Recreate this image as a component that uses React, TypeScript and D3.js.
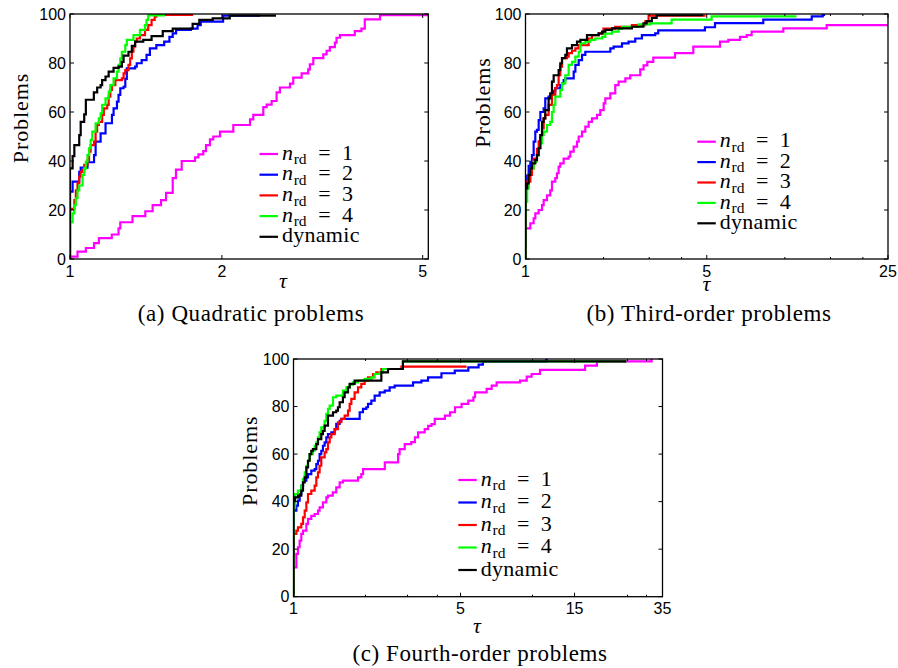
import React from "react";
import * as d3 from "d3";

type Pt = [number, number];

// ---------- shared ----------
const SERIES_LABELS = ["1", "2", "3", "4", "dynamic"];
const SERIES_COLORS = ["#ff00ff", "#0000ff", "#ff0000", "#00ff00", "#000000"];
const Y_TICKS = [0, 20, 40, 60, 80, 100];

// ---------- (a) Quadratic problems ----------
const quadXTicks = [1, 2, 5];
const quadXMinor: number[] = [];
const quadN1: Pt[] = [[1,1],[1.035,3],[1.075,4.5],[1.116,6.5],[1.141,8.5],[1.21,10],[1.248,12.5],[1.258,15],[1.33,17.5],[1.41,19.5],[1.458,22],[1.515,24],[1.55,27],[1.598,33],[1.622,36.5],[1.665,40],[1.769,41.5],[1.797,42.7],[1.837,44],[1.86,46.5],[1.894,48.8],[1.923,50],[1.983,52],[2.107,54.7],[2.274,57],[2.308,58.8],[2.416,62],[2.453,63],[2.51,64.5],[2.567,68],[2.606,70],[2.729,71.6],[2.77,74],[2.878,75.8],[2.966,77.4],[2.988,79.5],[3.035,82],[3.176,83.5],[3.225,85],[3.273,86.5],[3.349,88.3],[3.375,90.3],[3.427,91.4],[3.668,93],[3.781,94],[3.839,97.8],[4.115,99.5],[5.13,99.5]];
const quadN2: Pt[] = [[1,27.5],[1.012,31.6],[1.043,35.6],[1.05,37.3],[1.083,39.5],[1.116,42.4],[1.124,47.9],[1.15,51.3],[1.176,55.4],[1.211,58.8],[1.22,61.5],[1.239,64.2],[1.248,67],[1.258,69.7],[1.277,70.3],[1.287,73.5],[1.296,77.8],[1.346,78.5],[1.356,79.9],[1.387,81.2],[1.418,83.3],[1.44,86],[1.483,87.3],[1.537,88.7],[1.574,90.7],[1.598,92.1],[1.623,93.5],[1.736,94],[1.79,95.5],[1.816,96.9],[2.011,99.3],[2.38,99.3]];
const quadN3: Pt[] = [[1,20.5],[1.02,24],[1.027,28],[1.035,31],[1.043,33.6],[1.05,35.6],[1.059,36.3],[1.067,38.4],[1.083,40.4],[1.091,43.8],[1.099,46.5],[1.116,47.9],[1.124,52],[1.132,54.7],[1.141,56],[1.158,58.8],[1.167,61.5],[1.185,62.9],[1.193,66.3],[1.202,69],[1.211,71],[1.23,73],[1.267,73.7],[1.277,75.8],[1.287,77.1],[1.306,79.2],[1.316,81.9],[1.326,84.6],[1.336,86.7],[1.346,88.7],[1.356,90],[1.376,91.4],[1.408,93.5],[1.429,95.5],[1.451,97.6],[1.472,98.9],[1.483,99.6],[1.754,99.6]];
const quadN4: Pt[] = [[1,15],[1.012,18.6],[1.02,22],[1.027,24.8],[1.035,28],[1.043,30],[1.059,34.3],[1.067,37],[1.075,39.7],[1.083,42.4],[1.091,45.2],[1.099,48.6],[1.107,52],[1.124,55.4],[1.141,57.4],[1.15,59.5],[1.158,62.9],[1.176,65.6],[1.193,68.3],[1.202,71],[1.22,73.7],[1.239,76.5],[1.248,79.2],[1.258,81.9],[1.267,84.6],[1.287,87.3],[1.296,89.4],[1.336,91.4],[1.376,93.5],[1.408,95.5],[1.418,97.6],[1.429,99.4],[1.543,99.4]];
const quadDyn: Pt[] = [[1,37],[1.012,42],[1.02,46.5],[1.043,50.6],[1.05,56],[1.067,59],[1.075,65],[1.115,68],[1.132,70],[1.15,71],[1.158,73],[1.176,74.5],[1.193,76.5],[1.22,78],[1.248,78.5],[1.267,80.5],[1.277,83],[1.306,84.6],[1.326,87],[1.346,88.7],[1.397,89.4],[1.451,91],[1.527,93],[1.598,94],[1.75,96],[1.804,97.6],[1.918,98.2],[2.073,99.3],[2.56,99.3]];

// ---------- (b) Third-order problems ----------
const thirdXTicks = [1, 5, 25];
const thirdXMinor = [2, 3, 4, 10, 15, 20];
const thirdN1: Pt[] = [[1,12.5],[1.044,14.6],[1.075,16.6],[1.091,18.6],[1.124,20],[1.158,22],[1.175,24],[1.21,26],[1.246,28],[1.265,31.6],[1.303,33],[1.322,35],[1.342,37.7],[1.362,39],[1.403,41],[1.467,41.8],[1.489,43.8],[1.534,45.9],[1.58,47.9],[1.604,50],[1.652,52],[1.701,54],[1.752,56],[1.805,57.4],[1.886,58.8],[1.943,60.8],[2.002,63.5],[2.032,65.6],[2.124,67.6],[2.219,71],[2.286,72.4],[2.427,73.7],[2.535,75],[2.77,77.4],[2.853,79],[2.95,80.5],[3.11,82.2],[3.772,84],[4.437,86.7],[5.624,88.7],[6.054,89.4],[6.718,90.7],[7.128,91.4],[7.45,92.8],[9.87,94.1],[14.5,95.5],[25,95.5]];
const thirdN2: Pt[] = [[1,28.8],[1.015,34],[1.0285,38],[1.044,39.7],[1.059,42.4],[1.075,47.9],[1.091,52],[1.107,52.7],[1.124,56.7],[1.141,60],[1.175,61.5],[1.192,65.6],[1.228,66.3],[1.246,67],[1.284,68.6],[1.303,69.7],[1.362,71],[1.383,71.7],[1.403,73],[1.424,73.7],[1.534,76.5],[1.557,79.2],[1.604,81.2],[1.652,83.3],[1.701,84.6],[2.124,86],[2.187,86.7],[2.356,88],[2.497,88.7],[2.65,90],[2.811,91.4],[3.163,92.1],[3.25,93.3],[4.92,94.6],[5.38,96.3],[8.26,97.7],[12.7,99],[14.0,99.6],[14.3,99.6]];
const thirdN3: Pt[] = [[1,30],[1.015,31.6],[1.044,34.3],[1.059,37],[1.075,41],[1.107,45],[1.124,48],[1.141,50.6],[1.158,53.3],[1.175,57.4],[1.192,58.8],[1.228,62.9],[1.265,67],[1.303,69.7],[1.322,71],[1.342,75],[1.362,78.5],[1.383,82],[1.445,82.6],[1.467,84],[1.511,85],[1.557,86],[1.604,87.3],[1.752,90],[1.805,91.4],[1.915,92],[1.998,94],[2.219,94.8],[2.572,95.5],[2.896,97],[2.983,99.3],[4.95,99.3]];
const thirdN4: Pt[] = [[1,23.4],[1.015,28.8],[1.0285,34.3],[1.044,37],[1.075,39.7],[1.107,42.4],[1.124,45.2],[1.141,47.2],[1.158,50.6],[1.175,52],[1.21,54.7],[1.246,56],[1.265,60],[1.284,62.9],[1.303,66.3],[1.362,69],[1.383,71.7],[1.424,75],[1.467,79.2],[1.511,80.5],[1.557,82.6],[1.604,84.6],[1.628,88],[1.701,88.7],[1.778,89.4],[1.858,90],[1.973,90.7],[2.032,92],[2.155,92.8],[2.286,93.9],[2.356,94.8],[2.73,95.8],[3.02,96.2],[3.66,97.7],[5.22,99],[11.1,99]];
const thirdDyn: Pt[] = [[1,28.8],[1.015,30.9],[1.0285,34.3],[1.044,37],[1.059,39],[1.091,40.4],[1.107,42.4],[1.124,45.2],[1.141,50.6],[1.158,56],[1.175,57.4],[1.192,60.8],[1.228,65.6],[1.246,67.6],[1.265,72.4],[1.284,75],[1.342,77.1],[1.362,79.9],[1.383,82],[1.424,83.3],[1.445,86],[1.511,87.3],[1.58,88.7],[1.628,89.4],[1.726,91.4],[1.915,92.1],[1.973,92.8],[2.032,93.5],[2.155,94.1],[2.572,94.8],[2.85,96.2],[2.932,97.1],[3.07,98.4],[3.205,99.5],[4.85,99.5]];

// ---------- (c) Fourth-order problems ----------
const fourthXTicks = [1, 5, 15, 35];
const fourthXMinor = [2, 3, 4, 10, 25, 30];
const fourthN1: Pt[] = [[1,12.3],[1.028,18],[1.044,20.8],[1.061,23.6],[1.078,26.4],[1.096,27.8],[1.132,30.6],[1.15,32.7],[1.187,34],[1.226,34.8],[1.266,36.2],[1.286,37.6],[1.328,39.7],[1.372,41.8],[1.394,42.5],[1.46,43.9],[1.51,46],[1.56,48.1],[1.61,48.8],[1.862,50.2],[1.922,51.6],[1.955,53.7],[2.41,56.5],[2.74,60],[2.78,62.1],[2.92,64.2],[3.11,65],[3.22,67],[3.32,69.1],[3.54,70.5],[3.66,71.9],[3.78,72.6],[3.9,74.8],[4.3,76.2],[4.52,77.6],[4.74,79.7],[5.05,81.1],[5.39,82.5],[5.66,83.9],[5.75,86],[6.43,87.4],[6.75,88.8],[7.08,90.2],[8.87,90.9],[9.46,92.6],[9.92,93.7],[10.75,95.4],[16.6,97.2],[18.6,99],[31.5,99.6],[31.8,99.6]];
const fourthN2: Pt[] = [[1,36.2],[1.028,38.3],[1.044,40.4],[1.061,43.2],[1.078,46.7],[1.096,48.8],[1.132,50.2],[1.15,51.6],[1.187,53],[1.226,53.7],[1.246,55.8],[1.266,57.2],[1.286,60],[1.307,61.4],[1.328,63.5],[1.35,64.9],[1.372,67],[1.394,68.4],[1.44,69.1],[1.487,70.5],[1.51,72.7],[1.56,74],[1.585,74.8],[1.892,77.6],[1.953,79],[2.017,79.7],[2.05,81.1],[2.117,82.5],[2.186,84.6],[2.294,86],[2.408,86.7],[2.526,88.1],[2.651,88.8],[3.164,90.2],[3.428,90.9],[3.656,92.3],[4.16,94],[4.73,95.1],[5.39,96.5],[5.95,97.6],[6.2,99],[11.4,99.6],[11.6,99.6]];
const fourthN3: Pt[] = [[1,26.4],[1.028,27.8],[1.044,29.2],[1.078,30.6],[1.096,33.4],[1.114,36.2],[1.132,39.7],[1.15,43.2],[1.187,44.6],[1.226,46.7],[1.246,50.2],[1.266,52.3],[1.286,55.1],[1.307,58.6],[1.35,60.7],[1.372,62.1],[1.394,64.9],[1.417,67],[1.44,68.4],[1.487,70.5],[1.535,73.4],[1.585,74.8],[1.637,76.2],[1.691,78.3],[1.718,81.1],[1.746,83.2],[1.802,86],[1.862,88.1],[1.922,89.5],[1.985,90.9],[2.05,92.3],[2.151,93.7],[2.221,94.4],[2.331,95.8],[2.827,96.8],[5.3,96.8]];
const fourthN4: Pt[] = [[1,37.6],[1.015,43.2],[1.044,44.6],[1.078,46.7],[1.096,49.5],[1.114,52.3],[1.132,55.1],[1.15,57.2],[1.168,60],[1.206,61.4],[1.226,63.5],[1.246,64.9],[1.266,67],[1.286,69.1],[1.307,71.2],[1.35,74],[1.372,76.9],[1.394,79],[1.417,80.4],[1.463,83.9],[1.51,84.6],[1.61,86.7],[1.664,88.1],[1.718,89.2],[1.774,90.2],[1.862,90.9],[1.985,91.6],[2.117,92.3],[2.186,93.7],[2.294,94.4],[2.37,95.8],[2.87,99],[24.7,99]];
const fourthDyn: Pt[] = [[1,40.4],[1.015,41.8],[1.044,42.5],[1.078,44.6],[1.096,48.1],[1.114,50.2],[1.132,54.4],[1.15,57.2],[1.168,60],[1.187,61.4],[1.206,62.1],[1.246,64.2],[1.266,66.3],[1.307,68.4],[1.328,69.8],[1.35,72],[1.394,76.2],[1.463,77.6],[1.51,78.3],[1.535,79.7],[1.56,81.8],[1.61,83.9],[1.637,86],[1.691,88.1],[1.718,89.5],[1.802,90.9],[2.331,94.4],[2.486,95.8],[2.87,99],[24.7,99]];

// ---------- layout ----------
const SANS = "'Liberation Sans', Arial, Helvetica, sans-serif";
const SERIF = "'Liberation Serif', 'Times New Roman', serif";

interface PanelCfg {
  key: string;
  x0: number; x1: number; yTop: number; yBot: number;
  xMax: number;
  xTicks: number[]; xMinor: number[];
  series: Pt[][];
  legX: number; legY: number; legGap: number;
  ylabX: number; ylabY: number;
  tauX: number; tauY: number;
  capX: number; capY: number; caption: string;
}

const panels: PanelCfg[] = [
  { key: "a", x0: 70, x1: 428.3, yTop: 14, yBot: 259, xMax: 5.13,
    xTicks: quadXTicks, xMinor: quadXMinor,
    series: [quadN1, quadN2, quadN3, quadN4, quadDyn],
    legX: 259.5, legY: 154, legGap: 20.7,
    ylabX: 28.3, ylabY: 118, tauX: 283, tauY: 288,
    capX: 251, capY: 321, caption: "(a) Quadratic problems" },
  { key: "b", x0: 525.5, x1: 888, yTop: 14, yBot: 259, xMax: 25,
    xTicks: thirdXTicks, xMinor: thirdXMinor,
    series: [thirdN1, thirdN2, thirdN3, thirdN4, thirdDyn],
    legX: 697.3, legY: 141.7, legGap: 20.4,
    ylabX: 490, ylabY: 102.5, tauX: 706.5, tauY: 290.5,
    capX: 709, capY: 321, caption: "(b) Third-order problems" },
  { key: "c", x0: 293.5, x1: 662.5, yTop: 359, yBot: 596.7, xMax: 35,
    xTicks: fourthXTicks, xMinor: fourthXMinor,
    series: [fourthN1, fourthN2, fourthN3, fourthN4, fourthDyn],
    legX: 458.3, legY: 480, legGap: 22.5,
    ylabX: 256.7, ylabY: 460.8, tauX: 477, tauY: 633,
    capX: 480, capY: 660.5, caption: "(c) Fourth-order problems" },
];

function LegendLabel({ x, y, label }: { x: number; y: number; label: string }) {
  if (label === "dynamic") {
    return (
      <text x={x} y={y} fontFamily={SERIF} fontSize={22} letterSpacing={0.3}>dynamic</text>
    );
  }
  return (
    <text y={y} fontFamily={SERIF} fontSize={22}>
      <tspan x={x} fontStyle="italic">n</tspan>
      <tspan x={x + 11.8} dy={4.5} fontSize={15.5}>rd</tspan>
      <tspan x={x + 36.3} dy={-4.5}>=</tspan>
      <tspan x={x + 60}>{label}</tspan>
    </text>
  );
}

function Panel({ cfg }: { cfg: PanelCfg }) {
  const x = d3.scaleLog().domain([1, cfg.xMax]).range([cfg.x0, cfg.x1]);
  const y = d3.scaleLinear().domain([0, 100]).range([cfg.yBot, cfg.yTop]);
  const line = d3
    .line<Pt>()
    .x((d) => x(d[0]))
    .y((d) => y(d[1]))
    .curve(d3.curveStepAfter);
  const clipId = `clip-${cfg.key}`;
  const tk = 4;
  const tkMinor = 2;
  return (
    <g>
      <defs>
        <clipPath id={clipId}>
          <rect x={cfg.x0} y={cfg.yTop - 1} width={cfg.x1 - cfg.x0} height={cfg.yBot - cfg.yTop + 1} />
        </clipPath>
      </defs>
      <rect x={cfg.x0} y={cfg.yTop} width={cfg.x1 - cfg.x0} height={cfg.yBot - cfg.yTop} fill="#fff" />
      <g clipPath={`url(#${clipId})`}>
        {cfg.series.map((s, i) => (
          <path
            key={i}
            d={line([[1, 0] as Pt, ...s]) || ""}
            fill="none"
            stroke={SERIES_COLORS[i]}
            strokeWidth={2.2}
            strokeLinejoin="miter"
          />
        ))}
      </g>
      {/* ticks */}
      <g stroke="#000" strokeWidth={1}>
        {Y_TICKS.map((t) => (
          <g key={"y" + t}>
            <line x1={cfg.x0} x2={cfg.x0 + tk} y1={y(t)} y2={y(t)} />
            <line x1={cfg.x1} x2={cfg.x1 - tk} y1={y(t)} y2={y(t)} />
          </g>
        ))}
        {cfg.xTicks.map((t) => (
          <g key={"x" + t}>
            <line x1={x(t)} x2={x(t)} y1={cfg.yBot} y2={cfg.yBot - tk} />
            <line x1={x(t)} x2={x(t)} y1={cfg.yTop} y2={cfg.yTop + tk} />
          </g>
        ))}
        {cfg.xMinor.map((t) => (
          <g key={"m" + t}>
            <line x1={x(t)} x2={x(t)} y1={cfg.yBot} y2={cfg.yBot - tkMinor} />
            <line x1={x(t)} x2={x(t)} y1={cfg.yTop} y2={cfg.yTop + tkMinor} />
          </g>
        ))}
      </g>
      <rect x={cfg.x0} y={cfg.yTop} width={cfg.x1 - cfg.x0} height={cfg.yBot - cfg.yTop}
        fill="none" stroke="#000" strokeWidth={1.3} />
      {/* tick labels */}
      {Y_TICKS.map((t) => (
        <text key={"yl" + t} x={cfg.x0 - 4} y={y(t)} dy="0.36em" textAnchor="end"
          fontFamily={SANS} fontSize={16}>{t}</text>
      ))}
      {cfg.xTicks.map((t) => (
        <text key={"xl" + t} x={x(t)} y={cfg.yBot + 17.5} textAnchor="middle"
          fontFamily={SANS} fontSize={16}>{t}</text>
      ))}
      {/* axis labels */}
      <text transform={`translate(${cfg.ylabX},${cfg.ylabY}) rotate(-90)`} textAnchor="middle"
        fontFamily={SERIF} fontSize={22} letterSpacing={0.9}>Problems</text>
      <text x={cfg.tauX} y={cfg.tauY} textAnchor="middle" fontFamily={SERIF} fontSize={22}
        fontStyle="italic">τ</text>
      {/* legend */}
      {SERIES_LABELS.map((lab, i) => {
        const ly = cfg.legY + i * cfg.legGap;
        return (
          <g key={"lg" + i}>
            <line x1={cfg.legX} x2={cfg.legX + 18.5} y1={ly} y2={ly} stroke={SERIES_COLORS[i]} strokeWidth={2.2} />
            <LegendLabel x={cfg.legX + 22.4} y={ly + 5.6} label={lab} />
          </g>
        );
      })}
      {/* caption */}
      <text x={cfg.capX} y={cfg.capY} textAnchor="middle" fontFamily={SERIF} fontSize={23}
        letterSpacing={0.6}>{cfg.caption}</text>
    </g>
  );
}

export default function App() {
  return (
    <svg width={898} height={668} viewBox="0 0 898 668"
      style={{ position: "absolute", left: 0, top: 0, background: "#fff" }}>
      <rect x={0} y={0} width={898} height={668} fill="#fff" />
      {panels.map((p) => (
        <Panel key={p.key} cfg={p} />
      ))}
    </svg>
  );
}
